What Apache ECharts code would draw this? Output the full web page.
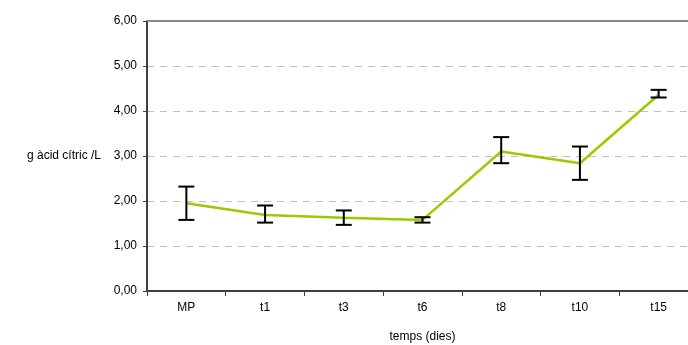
<!DOCTYPE html>
<html>
<head>
<meta charset="utf-8">
<script src="https://cdn.jsdelivr.net/npm/echarts@6/dist/echarts.min.js"></script>
<style>html,body{margin:0;padding:0;background:#fff;overflow:hidden;width:688px;height:345px;}#c{width:688px;height:345px;}</style>
</head>
<body>
<div id="c"></div>
<script>
const categories = ['MP', 't1', 't3', 't6', 't8', 't10', 't15'];
const means = [1.95, 1.69, 1.63, 1.58, 3.10, 2.84, 4.36];
const errLow = [1.58, 1.52, 1.47, 1.52, 2.84, 2.47, 4.30];
const errHigh = [2.32, 1.90, 1.79, 1.64, 3.42, 3.21, 4.47];
const yTicks = [0, 1, 2, 3, 4, 5, 6];

const font = 'Liberation Sans, Arial, sans-serif';
const chart = echarts.init(document.getElementById('c'), null, {renderer: 'canvas'});
const errData = categories.map((c, i) => [i, errLow[i], errHigh[i]]);

chart.setOption({
  animation: false,
  backgroundColor: '#fff',
  grid: {left: 147, top: 21, width: 551, height: 270, containLabel: false, outerBoundsMode: 'none'},
  xAxis: [{
    type: 'category',
    data: categories,
    boundaryGap: true,
    position: 'bottom',
    axisLine: {lineStyle: {color: '#404040', width: 2}},
    axisTick: {show: true, length: 5, lineStyle: {color: '#404040', width: 1}},
    axisLabel: {color: '#000', fontFamily: font, fontSize: 12, margin: 11},
    name: 'temps (dies)',
    nameLocation: 'middle',
    nameGap: 40,
    nameTextStyle: {color: '#000', fontFamily: font, fontSize: 12}
  }, {
    type: 'category',
    data: categories,
    position: 'top',
    axisLine: {lineStyle: {color: '#888', width: 2}},
    axisTick: {show: false},
    axisLabel: {show: false}
  }],
  yAxis: {
    type: 'value',
    min: yTicks[0],
    max: yTicks[yTicks.length - 1],
    interval: 1,
    axisLine: {show: true, lineStyle: {color: '#404040', width: 2}},
    axisTick: {show: true, length: 4, lineStyle: {color: '#404040'}},
    axisLabel: {color: '#000', fontFamily: font, fontSize: 12, margin: 10,
      formatter: v => v.toFixed(2).replace('.', ',')},
    splitLine: {show: true, lineStyle: {color: '#c0c0c0', type: [7, 6], width: 1}},
    name: 'g àcid cítric /L',
    nameLocation: 'middle',
    nameRotate: 0,
    nameGap: 46,
    nameTextStyle: {color: '#000', fontFamily: font, fontSize: 12, align: 'right', verticalAlign: 'middle'}
  },
  series: [{
    type: 'line',
    data: means,
    symbol: 'none',
    lineStyle: {color: '#99cc00', width: 2.5},
    z: 2
  }, {
    type: 'custom',
    data: errData,
    z: 3,
    renderItem: function (params, api) {
      const x = api.value(0);
      const lo = api.coord([x, api.value(1)]);
      const hi = api.coord([x, api.value(2)]);
      const hw = 8;
      const st = {stroke: '#000', lineWidth: 2};
      return {
        type: 'group',
        children: [
          {type: 'line', shape: {x1: lo[0], y1: lo[1], x2: hi[0], y2: hi[1]}, style: st},
          {type: 'line', shape: {x1: lo[0] - hw, y1: lo[1], x2: lo[0] + hw, y2: lo[1]}, style: st},
          {type: 'line', shape: {x1: hi[0] - hw, y1: hi[1], x2: hi[0] + hw, y2: hi[1]}, style: st}
        ]
      };
    }
  }]
});
</script>
</body>
</html>
